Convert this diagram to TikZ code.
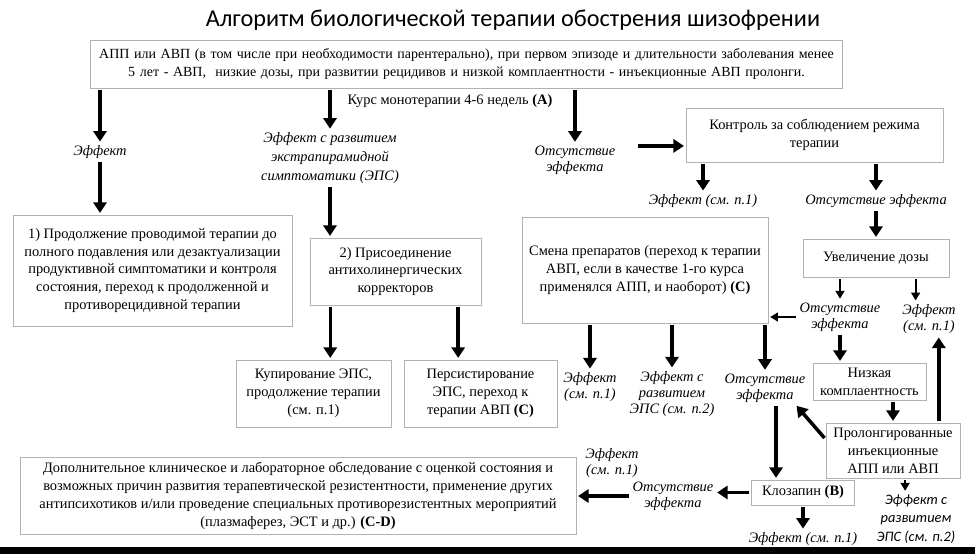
\documentclass[tikz,border=0pt]{standalone}
\usepackage{fontspec}
\setmainfont{Liberation Serif}
\newfontfamily\titlefont{Carlito}
\usepackage{tikz}
\usetikzlibrary{arrows.meta, positioning, calc}
\newcommand{\boxfont}{\fontsize{8.2}{10.2}\selectfont}
\newcommand{\lblfont}{\fontsize{8.2}{9.2}\selectfont\itshape}
\tikzstyle{box} = [rectangle, draw=gray!60, fill=white, align=center, inner sep=2pt, font=\boxfont]
\tikzstyle{lbl} = [align=center, inner sep=1pt, font=\lblfont]
\tikzstyle{arrow} = [line width=2pt, -{Triangle[length=6pt,width=7.5pt]}, shorten >=1pt, shorten <=1pt]
\tikzstyle{thinarrow} = [line width=1.1pt, -{Triangle[length=4.5pt,width=5pt]}, shorten >=1pt, shorten <=1pt]

\begin{document}
\begin{tikzpicture}[x=0.02cm, y=-0.02cm]
      \useasboundingbox (0,0) rectangle (975,554);
      \fill[white] (0,0) rectangle (975,554);
      \fill[black] (0,547) rectangle (975,554);

      % Title
      \node (title) at (513,20) {\titlefont\fontsize{13.8}{16}\selectfont Алгоритм биологической терапии обострения шизофрении};

      % Top box
      \node[box, font=\fontsize{7.95}{10.2}\selectfont, text width=14.9cm, minimum height=0.96cm] (top) at (466.5,64) {АПП или АВП (в том числе при необходимости парентерально), при первом эпизоде и длительности заболевания менее\\5 лет - АВП,~ низкие дозы, при развитии рецидивов и низкой комплаентности - инъекционные АВП пролонги.};
      \node[font=\boxfont] (course) at (450,101) {Курс монотерапии 4-6 недель \textbf{(A)}};

      % Left branch
      \node[lbl] (eff1) at (100,152) {Эффект};
      \node[box, minimum width=5.58cm, minimum height=2.22cm] (box1) at (152.5,270.5) {1) Продолжение проводимой терапии до\\полного подавления или дезактуализации\\продуктивной симптоматики и контроля\\состояния, переход к продолженной и\\противорецидивной терапии};

      % EPS branch
      \node[lbl, font=\fontsize{8.2}{10.8}\selectfont\itshape] (effeps) at (330,158) {Эффект с развитием\\экстрапирамидной\\симптоматики (ЭПС)};
      \node[box, minimum width=3.42cm, minimum height=1.34cm] (box2) at (395.5,271.5) {2) Присоединение\\антихолинергических\\корректоров};
      \node[box, minimum width=3.10cm, minimum height=1.34cm] (kup) at (313.5,393.5) {Купирование ЭПС,\\продолжение терапии\\(см. п.1)};
      \node[box, minimum width=3.06cm, minimum height=1.34cm] (pers) at (480.5,393.5) {Персистирование\\ЭПС, переход к\\терапии АВП \textbf{(C)}};

      % No effect branch
      \node[lbl] (noeff1) at (575,160) {Отсутствие\\эффекта};
      \node[box, minimum width=5.14cm, minimum height=1.08cm] (ctrl) at (814.5,135) {Контроль за соблюдением режима\\терапии};
      \node[lbl] (eff2) at (703,201) {Эффект (см. п.1)};
      \node[lbl] (noeff2) at (876,201) {Отсутствие эффекта};
      \node[box, minimum width=2.92cm, minimum height=0.76cm] (uvel) at (876,258) {Увеличение дозы};
      \node[lbl] (noeff3) at (840,317) {Отсутствие\\эффекта};
      \node[lbl] (eff3) at (929,319) {Эффект\\(см. п.1)};
      \node[box, minimum width=4.92cm, minimum height=2.12cm] (smena) at (645,270) {Смена препаратов (переход к терапии\\АВП, если в качестве 1-го курса\\применялся АПП, и наоборот) \textbf{(C)}};
      \node[box, minimum width=2.26cm, minimum height=0.74cm] (nizk) at (869.5,381.5) {Низкая\\комплаентность};
      \node[box, minimum width=2.68cm, minimum height=1.10cm] (prol) at (893,450.5) {Пролонгированные\\инъекционные\\АПП или АВП};
      \node[lbl] (eff4) at (590,387) {Эффект\\(см. п.1)};
      \node[lbl] (effeps2) at (672,394) {Эффект с\\развитием\\ЭПС (см. п.2)};
      \node[lbl] (noeff4) at (765,388) {Отсутствие\\эффекта};
      \node[box, minimum width=2.06cm, minimum height=0.5cm] (kloz) at (803,492.5) {Клозапин \textbf{(B)}};
      \node[lbl] (noeff5) at (673,496) {Отсутствие\\эффекта};
      \node[lbl] (effend) at (612,463) {Эффект\\(см. п.1)};
      \node[lbl] (eff5) at (803,539) {Эффект (см. п.1)};
      \node[lbl, font=\titlefont\fontsize{8.2}{10.5}\selectfont\itshape] (effeps3) at (916,519) {Эффект с\\развитием\\ЭПС (см. п.2)};
      \node[box, minimum width=11.12cm, minimum height=1.54cm] (final) at (298,495.5) {Дополнительное клиническое и лабораторное обследование с оценкой состояния и\\возможных причин развития терапевтической резистентности, применение других\\антипсихотиков и/или проведение специальных противорезистентных мероприятий\\(плазмаферез, ЭСТ и др.) \textbf{(C-D)}};

      % Helper points on box edges
      \coordinate (b2a) at ($(box2.south west)!.12!(box2.south east)$);
      \coordinate (b2b) at ($(box2.south west)!.865!(box2.south east)$);
      \coordinate (ctrlin) at ($(ctrl.south west)!.3!(ctrl.north west)$);
      \coordinate (u2) at ($(uvel.south west)!.77!(uvel.south east)$);
      \coordinate (p1) at ($(prol.north west)!.84!(prol.north east)$);
      \coordinate (p2) at ($(prol.south west)!.59!(prol.south east)$);
      \coordinate (p3) at ($(prol.north west)!.3!(prol.south west)$);
      \coordinate (k1) at ($(kloz.north west)!.24!(kloz.north east)$);
      \coordinate (n4) at ($(noeff4.south east)+(-12,0)$);

      % Arrows
      \draw[arrow] (top.south -| eff1.north) -- (eff1.north);
      \draw[arrow] (top.south -| effeps.north) -- (effeps.north);
      \draw[arrow] (top.south -| noeff1.north) -- (noeff1.north);
      \draw[arrow] (eff1.south) -- (eff1.south |- box1.north);
      \draw[arrow] (effeps.south) -- (effeps.south |- box2.north);
      \draw[arrow] (b2a) -- (b2a |- kup.north);
      \draw[arrow] (b2b) -- (b2b |- pers.north);
      \draw[arrow, shorten <=12pt] (noeff1.east |- ctrlin) -- (ctrlin);
      \draw[arrow] (ctrl.south -| eff2.north) -- (eff2.north);
      \draw[arrow] (ctrl.south -| noeff2.north) -- (noeff2.north);
      \draw[arrow] (noeff2.south) -- (noeff2.south |- uvel.north);
      \draw[thinarrow] (uvel.south -| noeff3.north) -- (noeff3.north);
      \draw[thinarrow] (u2) -- (u2 |- eff3.north);
      \draw[thinarrow] (noeff3.west) -- (noeff3.west -| smena.east);
      \draw[arrow] (noeff3.south) -- (noeff3.south |- nizk.north);
      \draw[arrow] (nizk.south -| prol.north) -- (prol.north);
      \draw[arrow] (p1) -- (p1 |- eff3.south);
      \draw[arrow] (p3) -- (n4);
      \draw[arrow] (smena.south -| eff4.north) -- (eff4.north);
      \draw[arrow] (smena.south -| effeps2.north) -- (effeps2.north);
      \draw[arrow] (smena.south -| noeff4.north) -- (noeff4.north);
      \draw[arrow] (k1 |- noeff4.south) -- (k1);
      \draw[arrow] (kloz.west) -- (kloz.west -| noeff5.east);
      \draw[arrow] (noeff5.west) -- (noeff5.west -| final.east);
      \draw[arrow] (kloz.south) -- (kloz.south |- eff5.north);
      \draw[thinarrow] (p2) -- (p2 |- effeps3.north);
    \end{tikzpicture}
\end{document}
